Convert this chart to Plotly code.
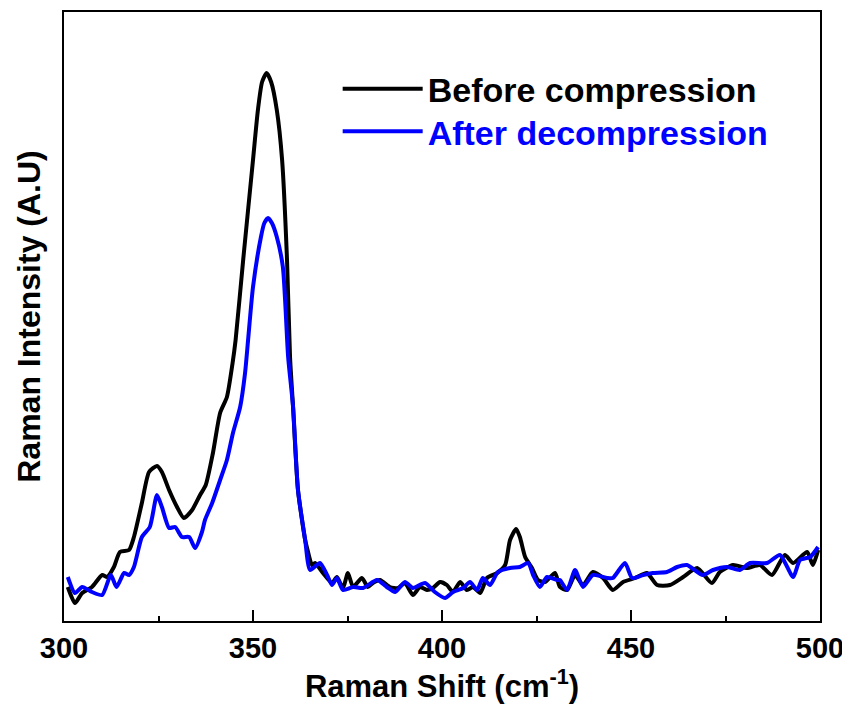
import plotly.graph_objects as go

# Raman shift (cm^-1) and intensity (arbitrary units)
before_x = [301.0, 302.9, 304.8, 307.4, 310.1, 311.4, 313.2, 314.8, 317.2, 318.5,
            320.6, 322.5, 324.6, 325.9, 327.8, 329.9, 331.7, 333.9, 336.0, 337.5,
            339.4, 341.3, 343.1, 344.6, 345.4, 347.4, 350.0, 351.3, 352.4, 353.6,
            354.8, 356.3, 357.7, 359.0, 359.8, 360.6, 361.9, 363.8, 364.5, 365.6,
            366.4, 368.5, 370.9, 372.2, 373.8, 375.1, 376.5, 378.8, 380.4, 381.7,
            383.6, 386.2, 388.4, 390.2, 392.3, 394.2, 396.0, 397.6, 399.5, 401.3,
            402.9, 404.8, 406.6, 408.2, 410.1, 411.9, 414.6, 416.7, 418.0, 419.6,
            420.6, 422.0, 423.8, 425.4, 427.2, 429.9, 431.2, 433.1, 435.2, 437.3,
            439.9, 442.6, 445.2, 447.9, 451.1, 454.2, 456.9, 460.3, 463.8, 467.5,
            471.4, 473.5, 477.0, 480.7, 484.1, 487.3, 490.7, 492.9, 496.6, 498.1,
            499.5]
before_y = [34, 18, 28, 34, 46, 44, 54, 69, 71, 84,
            118, 149, 155, 149, 131, 114, 103, 111, 126, 136,
            168, 208, 224, 258, 281, 361, 461, 511, 539, 548,
            539, 511, 461, 361, 264, 214, 131, 81, 70, 56,
            58, 48, 38, 44, 33, 48, 34, 43, 34, 38,
            41, 34, 33, 38, 26, 34, 31, 33, 39, 36,
            29, 39, 31, 34, 28, 43, 48, 56, 81, 92,
            84, 64, 53, 41, 39, 48, 34, 31, 46, 36,
            49, 43, 31, 39, 43, 48, 36, 36, 44, 53,
            38, 49, 56, 53, 56, 46, 66, 58, 69, 56,
            71]

after_x = [301.0, 302.9, 304.8, 307.4, 310.1, 312.4, 313.9, 315.9, 317.2, 318.5,
           320.6, 322.7, 324.6, 325.9, 327.8, 329.4, 331.2, 333.1, 334.7, 336.5,
           337.3, 339.2, 341.3, 343.1, 344.7, 346.6, 347.9, 348.7, 350.0, 352.1,
           353.0, 354.0, 355.0, 356.3, 357.9, 359.3, 360.6, 361.9, 363.8, 365.1,
           367.7, 369.6, 370.9, 372.2, 373.8, 376.5, 379.1, 382.8, 385.4, 387.6,
           390.2, 392.3, 395.5, 398.1, 400.8, 402.9, 405.6, 407.4, 409.3, 410.8,
           412.7, 414.8, 418.0, 420.6, 422.8, 424.1, 425.9, 427.8, 430.4, 431.2,
           433.1, 435.2, 437.3, 439.9, 443.7, 445.2, 448.4, 450.3, 453.2, 455.8,
           459.5, 462.2, 464.8, 469.0, 471.7, 475.4, 478.8, 481.5, 486.0, 489.4,
           492.9, 494.7, 497.4, 499.5]
after_y = [44, 28, 34, 29, 26, 46, 34, 48, 46, 54,
           84, 94, 126, 114, 93, 94, 84, 84, 73, 89,
           101, 118, 141, 161, 188, 214, 248, 281, 334, 384,
           398, 403, 398, 384, 354, 264, 214, 131, 81, 51,
           58, 46, 36, 43, 31, 34, 33, 41, 34, 29,
           39, 33, 38, 29, 23, 29, 33, 39, 31, 43,
           36, 49, 53, 54, 58, 46, 34, 44, 41, 41,
           31, 51, 34, 46, 43, 43, 58, 43, 46, 48,
           49, 54, 56, 46, 51, 54, 51, 58, 58, 66,
           44, 61, 64, 74]

x_ticks = [300, 350, 400, 450, 500]
series_names = ["Before compression", "After decompression"]
series_colors = ["#000000", "#0000ff"]

FONT = "Arial, 'Liberation Sans', sans-serif"

fig = go.Figure()
fig.add_trace(go.Scatter(
    x=before_x, y=before_y, mode="lines",
    name="<b>" + series_names[0] + "</b>",
    line=dict(color=series_colors[0], width=4, shape="spline", smoothing=0.6),
    legend="legend",
))
fig.add_trace(go.Scatter(
    x=after_x, y=after_y, mode="lines",
    name="<b><span style='color:#0000ff'>" + series_names[1] + "</span></b>",
    line=dict(color=series_colors[1], width=4, shape="spline", smoothing=0.6),
    legend="legend2",
))

legend_common = dict(
    xanchor="left", yanchor="top",
    bgcolor="rgba(0,0,0,0)", borderwidth=0,
    font=dict(family=FONT, size=34, color="black"),
    itemwidth=80,
)

# page body adds an 8px margin, so the figure is 842x700 with margins shifted
fig.update_layout(
    width=842, height=700,
    margin=dict(l=56, r=30, t=4, b=87, autoexpand=False),
    paper_bgcolor="white", plot_bgcolor="white",
    font=dict(family=FONT, color="black"),
    showlegend=True,
    legend=dict(x=0.362, y=0.921, **legend_common),
    legend2=dict(x=0.362, y=0.851, **legend_common),
    xaxis=dict(
        range=[300, 500], tickvals=x_ticks, automargin=False,
        showline=True, linecolor="black", linewidth=2, mirror=True,
        ticks="inside", ticklen=11, tickwidth=2, tickcolor="black",
        minor=dict(ticks="inside", ticklen=5, tickwidth=2, dtick=25, tickcolor="black"),
        showgrid=False, zeroline=False,
        tickfont=dict(family=FONT, size=29, color="black", weight="bold"),
        title=dict(text="<b>Raman Shift (cm<sup>-1</sup>)</b>",
                   font=dict(family=FONT, size=31, color="black"), standoff=12),
    ),
    yaxis=dict(
        range=[0, 609], automargin=False,
        showline=True, linecolor="black", linewidth=2, mirror=True,
        showticklabels=False, ticks="", showgrid=False, zeroline=False,
        title=dict(text="<b>Raman Intensity (A.U)</b>",
                   font=dict(family=FONT, size=32, color="black"), standoff=12),
    ),
)

fig.write_html("out.html")
